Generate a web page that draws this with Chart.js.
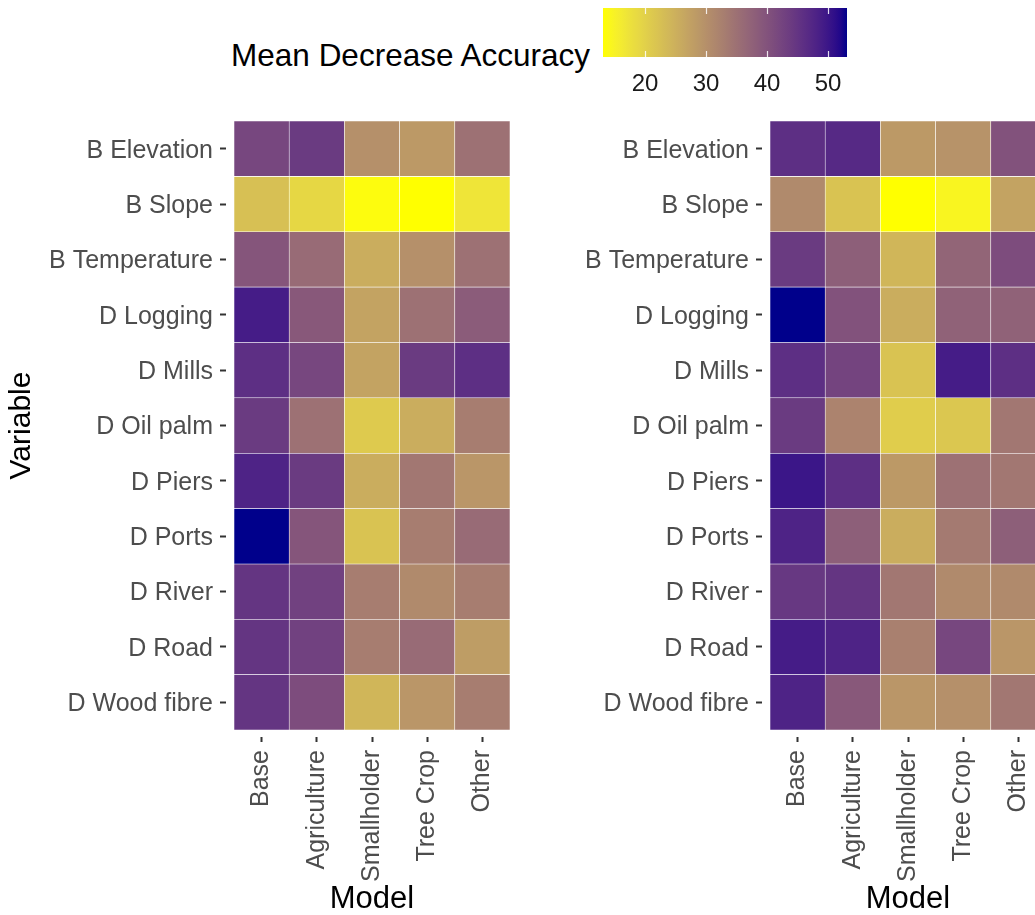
<!DOCTYPE html>
<html>
<head>
<meta charset="utf-8">
<script src="https://cdn.jsdelivr.net/npm/chart.js@4"></script>
<style>
  body { margin: 0; width: 1035px; height: 915px; overflow: hidden; background: #fff; position: relative; font-family: "Liberation Sans", Arial, sans-serif; }
  .box { position: absolute; }
  #legendTitle { position: absolute; left: 0; top: 37px; width: 590px; text-align: right; font-size: 31.5px; line-height: 36px; color: #000; }
</style>
</head>
<body>
<div id="legendTitle">Mean Decrease Accuracy</div>
<div class="box" style="left:590px; top:0; width:280px; height:110px;"><canvas id="bar"></canvas></div>
<div class="box" style="left:0; top:110px; width:520px; height:805px;"><canvas id="left"></canvas></div>
<div class="box" style="left:530px; top:110px; width:520px; height:805px;"><canvas id="right"></canvas></div>
<script>
const variables = ['B Elevation', 'B Slope', 'B Temperature', 'D Logging', 'D Mills', 'D Oil palm',
  'D Piers', 'D Ports', 'D River', 'D Road', 'D Wood fibre'];
const models = ['Base', 'Agriculture', 'Smallholder', 'Tree Crop', 'Other'];

// one row per variable, columns follow models
const leftValues = [
  [42, 44, 30, 28.5, 35],
  [22.5, 19, 13.5, 13.1, 17],
  [39.5, 36, 25.5, 30, 35],
  [49, 39, 27, 35, 38.5],
  [46, 42, 27, 44, 46],
  [44, 35, 21, 25.5, 33],
  [48, 44, 25.5, 34, 29],
  [53.1, 39.5, 22, 33, 36],
  [45, 43, 33, 31, 33],
  [45, 43, 33, 36, 28],
  [45, 41, 24, 29, 33]
];
const rightValues = [
  [46, 47, 28.5, 29.5, 40],
  [31, 22, 13.1, 14.5, 27],
  [44, 38, 24, 37, 41],
  [53.1, 40, 25.5, 37.5, 37.5],
  [46, 42.5, 22, 49, 46],
  [44, 32, 20.5, 21.5, 34],
  [50, 46, 28.5, 35, 34],
  [48, 38, 25.5, 33.5, 38],
  [44.5, 45, 34, 31, 31],
  [49, 48, 32.5, 42, 29],
  [48, 39, 29, 30, 34]
];
const legendTicks = [20, 30, 40, 50];

const lowColor = [255, 255, 0];
const highColor = [0, 0, 139];

Chart.defaults.font.family = '"Liberation Sans", Arial, sans-serif';
Chart.defaults.color = '#4d4d4d';

// lab colour ramp, like ggplot's scale_fill_gradient
function toLab(rgb) {
  const lin = rgb.map(c => { c /= 255; return c <= 0.04045 ? c / 12.92 : Math.pow((c + 0.055) / 1.055, 2.4); });
  const X = (0.4124564 * lin[0] + 0.3575761 * lin[1] + 0.1804375 * lin[2]) / 0.95047;
  const Y = 0.2126729 * lin[0] + 0.7151522 * lin[1] + 0.0721750 * lin[2];
  const Z = (0.0193339 * lin[0] + 0.1191920 * lin[1] + 0.9503041 * lin[2]) / 1.08883;
  const f = t => t > 216 / 24389 ? Math.cbrt(t) : (24389 / 27 * t + 16) / 116;
  const fx = f(X), fy = f(Y), fz = f(Z);
  return [116 * fy - 16, 500 * (fx - fy), 200 * (fy - fz)];
}
function fromLab(lab) {
  const fy = (lab[0] + 16) / 116, fx = fy + lab[1] / 500, fz = fy - lab[2] / 200;
  const inv = f => f * f * f > 216 / 24389 ? f * f * f : (116 * f - 16) / (24389 / 27);
  const X = inv(fx) * 0.95047, Y = inv(fy), Z = inv(fz) * 1.08883;
  const lin = [
    3.2404542 * X - 1.5371385 * Y - 0.4985314 * Z,
    -0.9692660 * X + 1.8760108 * Y + 0.0415560 * Z,
    0.0556434 * X - 0.2040259 * Y + 1.0572252 * Z
  ];
  const out = lin.map(c => {
    c = c <= 0.0031308 ? 12.92 * c : 1.055 * Math.pow(c, 1 / 2.4) - 0.055;
    return Math.round(Math.min(1, Math.max(0, c)) * 255);
  });
  return `rgb(${out[0]},${out[1]},${out[2]})`;
}
const labLow = toLab(lowColor), labHigh = toLab(highColor);
const allValues = leftValues.flat().concat(rightValues.flat());
const vMin = Math.min(...allValues), vMax = Math.max(...allValues);
function colorFor(v) {
  const t = (v - vMin) / (vMax - vMin);
  return fromLab(labLow.map((l, i) => l + (labHigh[i] - l) * t));
}

function heatmap(id, values, showTitle, yWidth, rightPad) {
  const datasets = variables.map((name, i) => ({
    label: name,
    data: models.map(() => [i - 0.5, i + 0.5]),
    backgroundColor: values[i].map(colorFor),
    borderColor: 'rgba(255,255,255,0.8)',
    borderWidth: 0.6,
    borderSkipped: false
  }));
  new Chart(document.getElementById(id), {
    type: 'bar',
    data: { labels: models, datasets: datasets },
    options: {
      responsive: true,
      maintainAspectRatio: false,
      animation: false,
      layout: { padding: { top: 11, right: rightPad, left: 0, bottom: 0 } },
      datasets: { bar: { grouped: false, barPercentage: 1, categoryPercentage: 1 } },
      plugins: { legend: { display: false }, tooltip: { enabled: false } },
      scales: {
        x: {
          type: 'category',
          border: { display: false },
          grid: { drawOnChartArea: false, offset: false, tickLength: 12, tickWidth: 2, tickColor: '#333', tickBorderDash: [0, 7, 5, 50] },
          ticks: { autoSkip: false, minRotation: 90, maxRotation: 90, padding: 8, font: { size: 25 }, color: '#4d4d4d' },
          title: { display: true, text: 'Model', color: '#000', font: { size: 31 }, padding: { top: 0, bottom: -3 } },
          afterFit: s => { s.height = 185; s.paddingLeft = 0; s.paddingRight = 0; }
        },
        y: {
          type: 'linear',
          min: -0.5,
          max: 10.5,
          reverse: true,
          border: { display: false },
          grid: { drawOnChartArea: false, tickLength: 14, tickWidth: 2, tickColor: '#333', tickBorderDash: [6, 20] },
          afterBuildTicks: s => { s.ticks = variables.map((_, i) => ({ value: i })); },
          ticks: { padding: 7, labelOffset: 2, font: { size: 25 }, color: '#4d4d4d', callback: v => variables[v] },
          title: { display: showTitle, text: 'Variable', color: '#000', font: { size: 30 }, padding: { top: 4, bottom: 0 } },
          afterFit: s => { s.width = yWidth; s.paddingTop = 0; s.paddingBottom = 0; }
        }
      }
    }
  });
}

heatmap('left', leftValues, true, 234, 10);
heatmap('right', rightValues, false, 240, 4);

// colour bar legend
const colorbarPlugin = {
  id: 'colorbar',
  beforeDatasetsDraw(chart) {
    const { ctx, chartArea: a, scales: { x } } = chart;
    const grad = ctx.createLinearGradient(a.left, 0, a.right, 0);
    for (let k = 0; k <= 40; k++) {
      const v = vMin + (vMax - vMin) * k / 40;
      grad.addColorStop(k / 40, colorFor(v));
    }
    ctx.save();
    ctx.fillStyle = grad;
    ctx.fillRect(a.left, a.top, a.right - a.left, a.bottom - a.top);
    ctx.strokeStyle = 'rgba(255,255,255,0.85)';
    ctx.lineWidth = 1.2;
    legendTicks.forEach(t => {
      const px = Math.round(x.getPixelForValue(t)) + 0.5;
      ctx.beginPath();
      ctx.moveTo(px, a.top); ctx.lineTo(px, a.top + 6);
      ctx.moveTo(px, a.bottom - 6); ctx.lineTo(px, a.bottom);
      ctx.stroke();
    });
    ctx.restore();
  }
};

new Chart(document.getElementById('bar'), {
  type: 'scatter',
  data: { datasets: [{ data: [] }] },
  plugins: [colorbarPlugin],
  options: {
    responsive: true,
    maintainAspectRatio: false,
    animation: false,
    layout: { padding: { top: 8, left: 13, right: 23, bottom: 0 } },
    plugins: { legend: { display: false }, tooltip: { enabled: false } },
    scales: {
      x: {
        type: 'linear',
        min: vMin,
        max: vMax,
        border: { display: false },
        grid: { display: false, drawTicks: false },
        afterBuildTicks: s => { s.ticks = legendTicks.map(v => ({ value: v })); },
        ticks: { padding: 13, font: { size: 24 }, color: '#1a1a1a' },
        afterFit: s => { s.height = 53; }
      },
      y: { display: false }
    }
  }
});
</script>
</body>
</html>
